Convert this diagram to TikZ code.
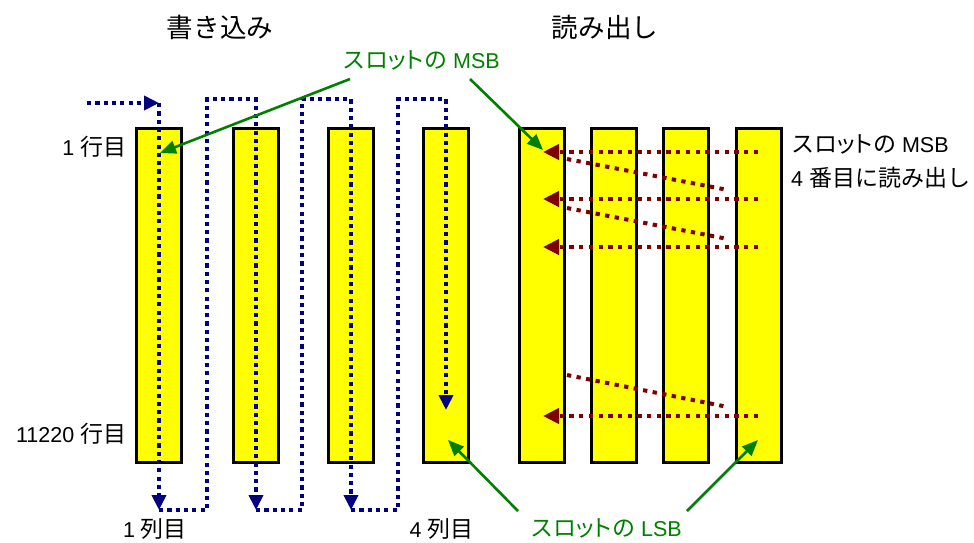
\documentclass[tikz,border=0pt]{standalone}
\usepackage{fontspec}
\setmainfont{Liberation Sans}
\newfontfamily\jp[Scale=1.07]{Noto Sans CJK JP}
\newfontfamily\jpp[Scale=1.07,RawFeature=+palt]{Noto Sans CJK JP}
\newcommand\slotjp{{\jp スロ{\jpp ット}の}}
\usetikzlibrary{arrows.meta}
\definecolor{wblue}{RGB}{0,0,128}
\definecolor{rred}{RGB}{128,0,0}
\definecolor{ggreen}{RGB}{0,128,0}
\definecolor{byellow}{RGB}{255,255,0}
\begin{document}
\begin{tikzpicture}[x=1pt,y=-1pt,
  bar/.style={draw=black, line width=3pt, fill=byellow, minimum width=45pt, minimum height=334pt, inner sep=0pt},
  wline/.style={draw=wblue, line width=4pt, dash pattern=on 4.2pt off 4.1pt, -{Triangle[length=15pt,width=14pt]}},
  rline/.style={draw=rred, line width=4pt, dash pattern=on 4.3pt off 5.4pt, -{Triangle[length=16pt,width=15pt]}},
  rplain/.style={draw=rred, line width=4pt, dash pattern=on 4.3pt off 5.4pt},
  gline/.style={draw=ggreen, line width=2.6pt, -{Triangle[length=16pt,width=13pt]}},
  txt/.style={inner sep=0pt, font=\fontsize{21.5pt}{26pt}\selectfont},
  ttl/.style={inner sep=0pt, font=\fontsize{24.8pt}{30pt}\selectfont\jp}
]
\useasboundingbox (0,0) rectangle (974,542);
% bars
\foreach \n/\x in {1/159,2/256,3/351,4/446,5/542,6/614,7/686,8/759}
  \node[bar] (b\n) at (\x,295.5) {};
% titles
\node[ttl] (t1) at (220,27) {書き込み};
\node[ttl] (t2) at (605,27) {読み出し};
% labels
\node[txt, anchor=base east] (r1) at (126.5,155) {1 {\jp 行目}};
\node[txt, anchor=base east] (r2) at (126.5,442) {11220 {\jp 行目}};
\node[txt, anchor=base] (c1) at (155,537) {1 {\jp 列目}};
\node[txt, anchor=base] (c4) at (441.5,537) {4 {\jp 列目}};
\node[txt, anchor=base west] (rd1) at (791,152) {\slotjp{} MSB};
\node[txt, anchor=base west] (rd2) at (791,186) {4 {\jp 番目に読み出し}};
\node[txt, text=ggreen, anchor=base] (msb) at (421,68) {\slotjp{} MSB};
\node[txt, text=ggreen, anchor=base] (lsb) at (606,536) {\slotjp{} LSB};
% write path
\coordinate (ws) at (87,103);
\coordinate (w0) at (159,103);
\coordinate (d1) at (159,510);
\coordinate (u2) at (207,99);
\coordinate (t2p) at (256,99);
\coordinate (d2) at (256,510);
\coordinate (u3) at (302,99);
\coordinate (t3p) at (351,99);
\coordinate (d3) at (351,510);
\coordinate (u4) at (398,99);
\coordinate (t4p) at (446,99);
\coordinate (e4) at (446,410);
\draw[wline] (ws) -- (w0);
\draw[wline] (w0) -- (d1);
\draw[wline] (d1) -| (u2) -- (t2p) -- (d2);
\draw[wline] (d2) -| (u3) -- (t3p) -- (d3);
\draw[wline] (d3) -| (u4) -- (t4p) -- (e4);
% read paths
\foreach \i/\y in {1/152,2/199,3/247,4/416}{
  \coordinate (rs\i) at (758,\y);
  \coordinate (re\i) at (543,\y);
  \draw[rline] (rs\i) -- (re\i);
}
\foreach \i/\ya/\yb in {1/159/190,2/208/239,3/375/407}{
  \coordinate (da\i) at (567,\ya);
  \coordinate (db\i) at (728,\yb);
  \draw[rplain] (da\i) -- (db\i);
}
% green pointers
\coordinate (gm1) at (350,79);
\coordinate (gm2) at (470,79);
\coordinate (gt1) at (160,153);
\coordinate (gt2) at (543,150);
\coordinate (gl1) at (518,511);
\coordinate (gl2) at (687,511);
\coordinate (gu1) at (448,440);
\coordinate (gu2) at (758,440);
\draw[gline] (gm1) -- (gt1);
\draw[gline] (gm2) -- (gt2);
\draw[gline] (gl1) -- (gu1);
\draw[gline] (gl2) -- (gu2);
\end{tikzpicture}
\end{document}
